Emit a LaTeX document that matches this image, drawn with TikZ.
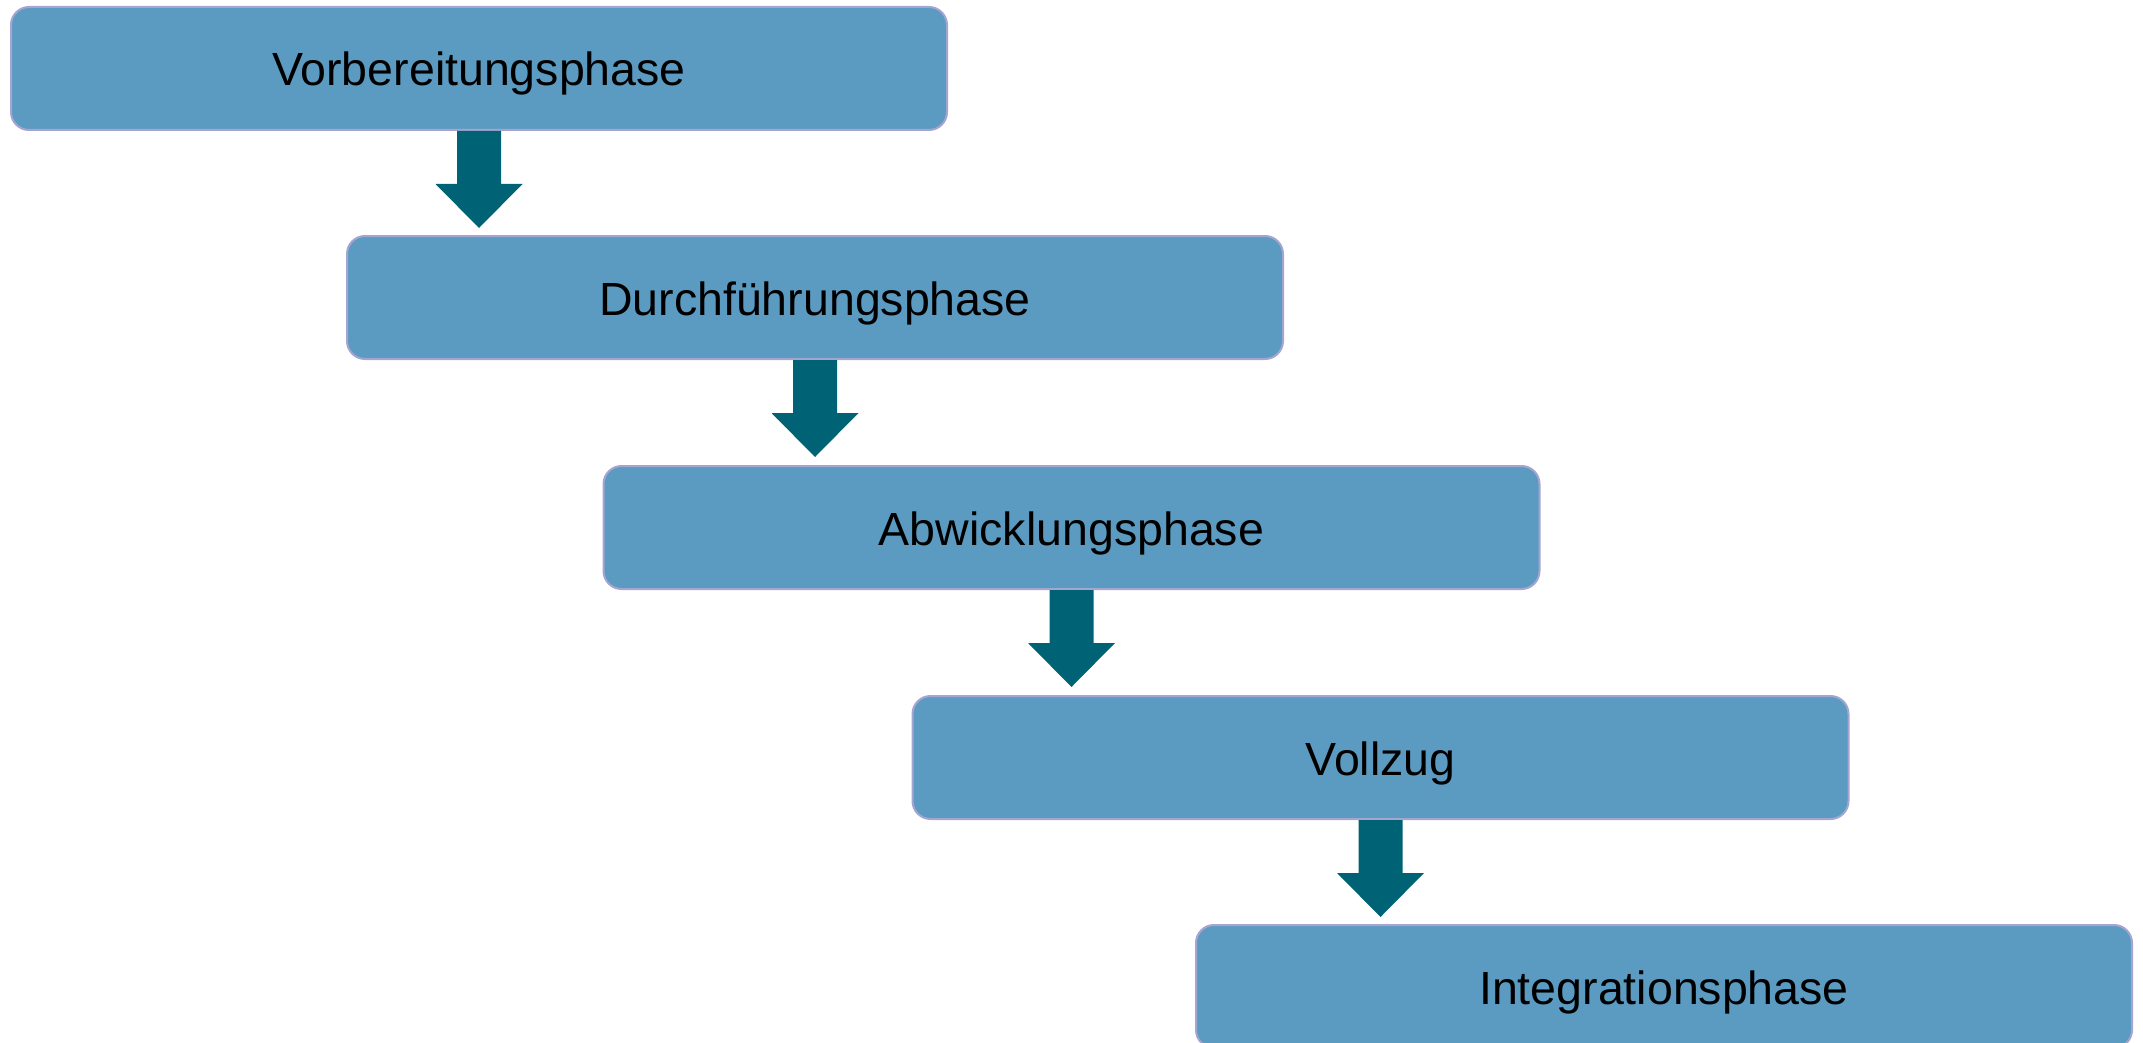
\documentclass[tikz,border=0pt]{standalone}
\usepackage{fontspec}
\setmainfont{Liberation Sans}
\definecolor{boxfill}{RGB}{92,155,193}
\definecolor{boxline}{RGB}{165,165,210}
\definecolor{arrowc}{RGB}{0,98,117}
\tikzset{
  phasebox/.style={rectangle, rounded corners=18pt, fill=boxfill, draw=boxline, line width=2pt,
    minimum width=936pt, minimum height=123pt, inner sep=0pt, text height=40pt, text depth=5pt,
    font=\fontsize{46.5}{55}\selectfont, text=black},
  downarrow/.style={fill=arrowc}
}
\newcommand{\phasearrow}[1]{%
  \fill[downarrow] (#1) ++(-22,0) -- ++(0,53) -- ++(-21.5,0) -- ++(43.5,44) -- ++(43.5,-44) -- ++(-21.5,0) -- ++(0,-53) -- cycle;}
\begin{document}
\begin{tikzpicture}[x=1pt,y=-1pt]
\useasboundingbox (0,0) rectangle (2143,1043);
\clip (0,0) rectangle (2143,1043);
\node[phasebox] (b1) at (479,68.5) {Vorbereitungsphase};
\node[phasebox] (b2) at (815,297.5) {Durchführungsphase};
\node[phasebox] (b3) at (1071.5,527.5) {Abwicklungsphase};
\node[phasebox] (b4) at (1380.5,757.5) {Vollzug};
\node[phasebox] (b5) at (1664,986.5) {Integrationsphase};
\phasearrow{b1.south}
\phasearrow{b2.south}
\phasearrow{b3.south}
\phasearrow{b4.south}
\end{tikzpicture}
\end{document}
